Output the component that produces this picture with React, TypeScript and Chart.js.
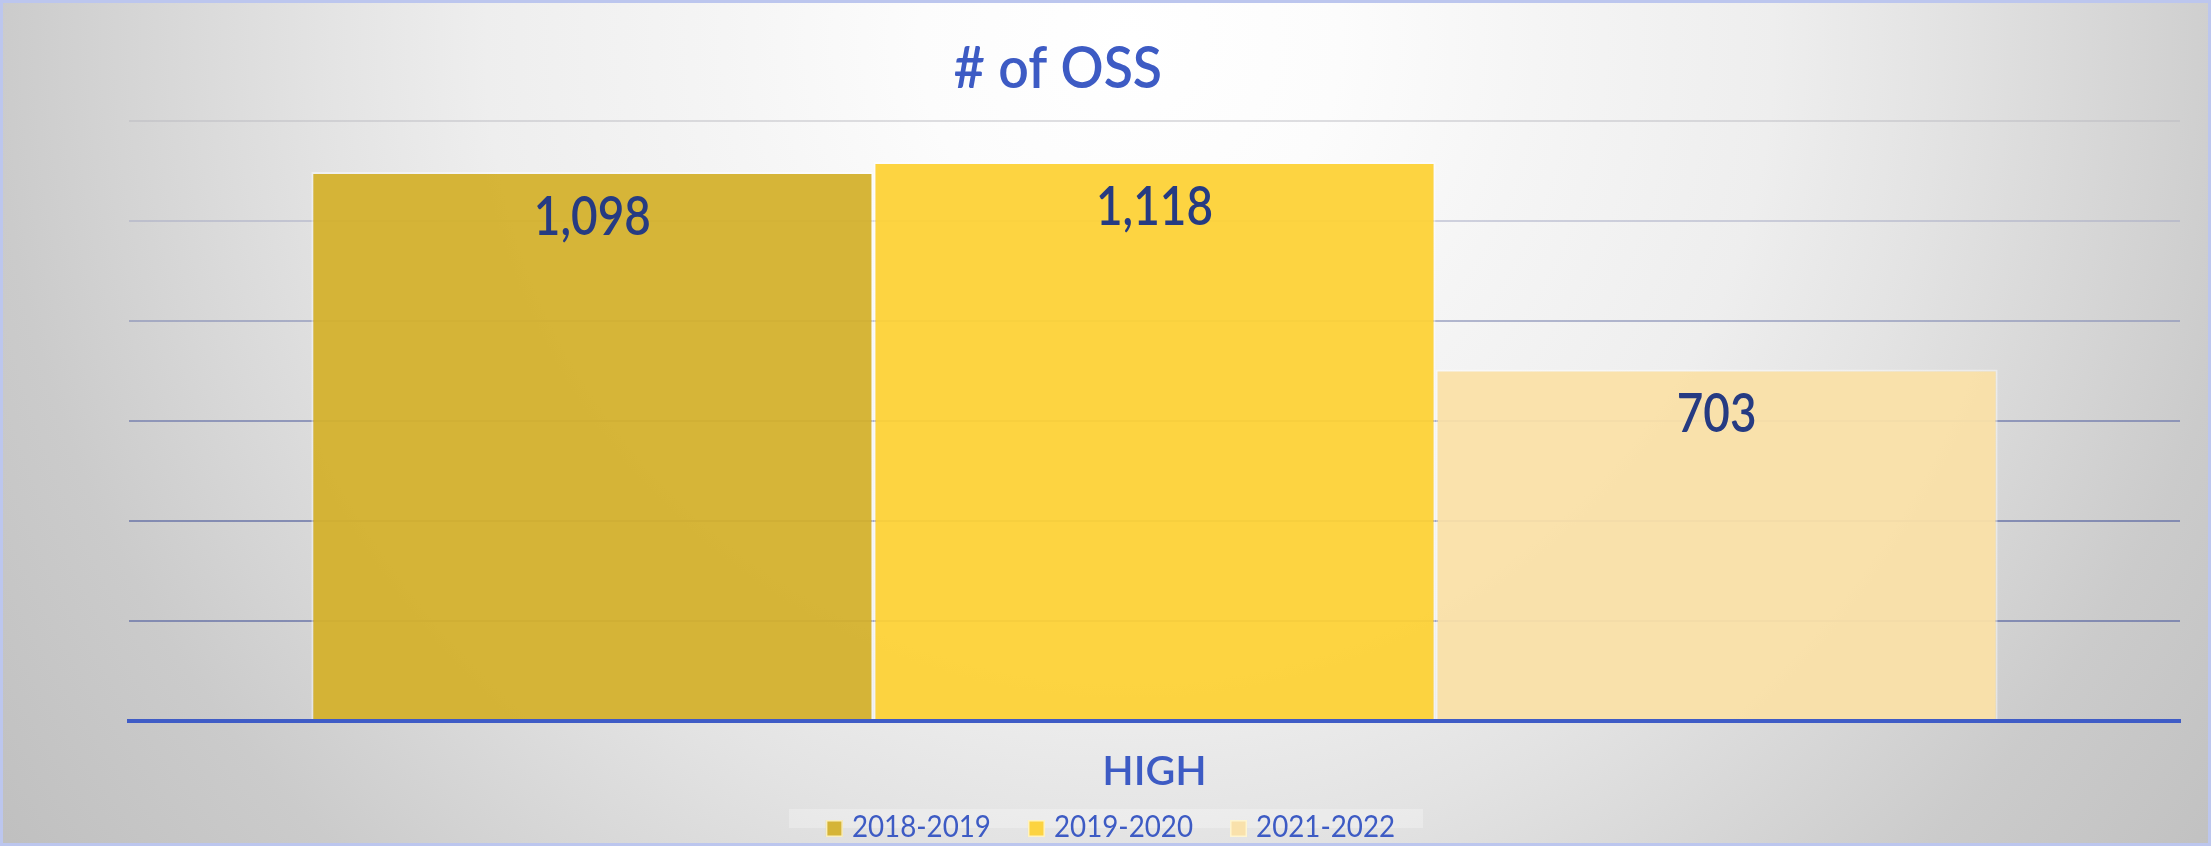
import React, { useEffect, useRef } from 'react';
import { Chart, registerables } from 'chart.js';

Chart.register(...registerables);

// ---- data ----
const categories = ['HIGH'];
const seriesLabels = ['2018-2019', '2019-2020', '2021-2022'];
const values2018 = [1098];
const values2019 = [1118];
const values2021 = [703];
const yTickValues = [0, 200, 400, 600, 800, 1000, 1200];
const chartTitle = '# of OSS';

// ---- styles ----
const barColors = ['rgba(212,177,45,0.95)', 'rgba(253,210,55,0.95)', 'rgba(250,224,168,0.95)'];
const blue = '#3D5BC4';
const navy = '#263B82';
const gridColors: Record<number, string> = {
  0: 'rgba(0,0,0,0)',
  200: 'rgba(112,122,170,0.8)',
  400: 'rgba(112,122,170,0.8)',
  600: 'rgba(120,130,175,0.75)',
  800: 'rgba(140,148,185,0.65)',
  1000: 'rgba(165,170,195,0.5)',
  1200: 'rgba(185,185,190,0.45)',
};

const backgroundPlugin = {
  id: 'bgGradient',
  beforeDraw(chart: any) {
    const { ctx, width, height } = chart;
    ctx.save();
    const cx = width * 0.511;
    const g = ctx.createRadialGradient(cx, 40, 0, cx, 40, 1400);
    g.addColorStop(0, '#ffffff');
    g.addColorStop(0.15, '#fcfcfc');
    g.addColorStop(0.29, '#f5f5f5');
    g.addColorStop(0.46, '#eeeeee');
    g.addColorStop(0.58, '#e3e3e3');
    g.addColorStop(0.81, '#cbcbcb');
    g.addColorStop(1, '#bfbfbf');
    ctx.fillStyle = g;
    ctx.fillRect(0, 0, width, height);
    ctx.restore();
  },
  afterDraw(chart: any) {
    const { ctx, width, height } = chart;
    ctx.save();
    ctx.strokeStyle = '#BCC6EE';
    ctx.lineWidth = 3;
    ctx.strokeRect(1.5, 1.5, width - 3, height - 3);
    ctx.restore();
  },
};

const titlePlugin = {
  id: 'customTitle',
  afterDraw(chart: any) {
    const { ctx, width } = chart;
    ctx.save();
    ctx.font = '600 57px Lato';
    ctx.fillStyle = blue;
    ctx.textAlign = 'center';
    ctx.textBaseline = 'alphabetic';
    ctx.translate(width * 0.4785, 88);
    ctx.scale(0.94, 1);
    ctx.fillText(chartTitle, 0, 0);
    ctx.restore();
  },
};

const labelPlugin = {
  id: 'barLabels',
  afterDatasetsDraw(chart: any) {
    const { ctx } = chart;
    chart.data.datasets.forEach((ds: any, i: number) => {
      const meta = chart.getDatasetMeta(i);
      meta.data.forEach((bar: any, j: number) => {
        const v = ds.data[j] as number;
        const txt = v.toLocaleString('en-US');
        ctx.save();
        ctx.font = '600 54px Lato';
        ctx.fillStyle = navy;
        ctx.textAlign = 'center';
        ctx.textBaseline = 'alphabetic';
        ctx.translate(bar.x, bar.y + 63);
        ctx.scale(0.85, 1);
        ctx.fillText(txt, 0, 0);
        ctx.restore();
      });
    });
  },
};

const legendPlugin = {
  id: 'customLegend',
  afterDraw(chart: any) {
    const { ctx, width } = chart;
    const sx = 0.925;
    const box = 17;
    const gapBoxText = 9;
    const gapItems = 37;
    const baseline = 837;
    ctx.save();
    ctx.font = '400 30px Lato';
    const items = chart.data.datasets.map((ds: any) => {
      const tw = ctx.measureText(ds.label).width * sx;
      return { label: ds.label, color: ds.backgroundColor, tw, w: box + gapBoxText + tw };
    });
    const total = items.reduce((s: number, it: any) => s + it.w, 0) + gapItems * (items.length - 1);
    let x = width / 2 + 5 - total / 2;
    const start = x;
    ctx.fillStyle = 'rgba(255,255,255,0.28)';
    ctx.fillRect(start - 37, 809, total + 65, 19);
    items.forEach((it: any) => {
      ctx.fillStyle = it.color;
      ctx.fillRect(x, baseline - box, box, box);
      ctx.strokeStyle = 'rgba(255,248,215,0.85)';
      ctx.lineWidth = 1.5;
      ctx.strokeRect(x + 0.75, baseline - box + 0.75, box - 1.5, box - 1.5);
      ctx.save();
      ctx.fillStyle = blue;
      ctx.textAlign = 'left';
      ctx.textBaseline = 'alphabetic';
      ctx.translate(x + box + gapBoxText, baseline);
      ctx.scale(sx, 1);
      ctx.fillText(it.label, 0, 0);
      ctx.restore();
      x += it.w + gapItems;
    });
    ctx.restore();
  },
};

export default function App() {
  const canvasRef = useRef<HTMLCanvasElement | null>(null);

  useEffect(() => {
    document.body.style.margin = '0';
    const canvas = canvasRef.current;
    if (!canvas) return;
    const seriesValues = [values2018, values2019, values2021];
    const chart = new Chart(canvas, {
      type: 'bar',
      data: {
        labels: categories,
        datasets: seriesLabels.map((label, i) => ({
          label,
          data: seriesValues[i],
          backgroundColor: barColors[i],
          borderColor: 'rgba(255,255,255,0.45)',
          borderWidth: 2,
          barPercentage: 1,
          categoryPercentage: 0.8222,
        })),
      },
      options: {
        animation: false,
        responsive: true,
        maintainAspectRatio: false,
        layout: { padding: { left: 129, right: 31, top: 121, bottom: 24 } },
        plugins: {
          legend: { display: false },
          title: { display: false },
          tooltip: { enabled: false },
        },
        scales: {
          x: {
            grid: { display: false, drawTicks: false },
            border: { display: true, color: '#3F5CC6', width: 4, z: 1 },
            ticks: {
              color: blue,
              padding: 26,
              font: { family: 'Lato', size: 41, weight: 600 as any },
            },
          },
          y: {
            min: 0,
            max: yTickValues[yTickValues.length - 1],
            afterBuildTicks: (axis: any) => {
              axis.ticks = yTickValues.map((v) => ({ value: v }));
            },
            ticks: { display: false },
            border: { display: false },
            grid: {
              drawTicks: false,
              lineWidth: 2,
              color: (ctx: any) => gridColors[ctx.tick?.value] ?? 'rgba(150,150,180,0.6)',
            },
          },
        },
      },
      plugins: [backgroundPlugin, titlePlugin, labelPlugin, legendPlugin],
    });
    return () => chart.destroy();
  }, []);

  return (
    <div style={{ position: 'fixed', left: 0, top: 0, width: '100vw', height: '100vh' }}>
      <canvas ref={canvasRef} />
    </div>
  );
}
